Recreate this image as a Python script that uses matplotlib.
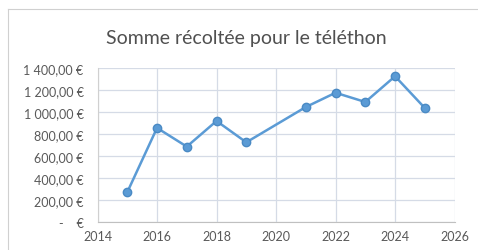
import matplotlib
matplotlib.use('Agg')
import matplotlib.pyplot as plt
from matplotlib.ticker import FuncFormatter
from matplotlib.lines import Line2D

# Data
annees = [2015, 2016, 2017, 2018, 2019, 2021, 2022, 2023, 2024, 2025]
sommes = [270, 855, 685, 918, 724, 1045, 1175, 1091, 1325, 1036]

plt.rcParams['font.family'] = ['Lato', 'DejaVu Sans']

fig = plt.figure(figsize=(4.78, 2.51), dpi=100)
ax = fig.add_axes([0.204, 0.112, 0.747, 0.613])

ax.plot(annees, sommes, color='#5b9bd5', linewidth=1.8, marker='o',
        markersize=6, markerfacecolor='#5b9bd5', markeredgecolor='#4a8ac4')

ax.set_xlim(2014, 2026)
ax.set_ylim(0, 1400)
ax.set_xticks(range(2014, 2027, 2))
ax.set_yticks(range(0, 1401, 200))
ax.grid(True, color='#d5dbe6', linewidth=0.9)
ax.set_axisbelow(True)


def euro(v, pos):
    if v == 0:
        return '-    €'
    s = f'{v:,.2f}'.replace(',', ' ').replace('.', ',')
    return s + ' €'


ax.yaxis.set_major_formatter(FuncFormatter(euro))
ax.tick_params(length=0, labelsize=9, labelcolor='#595959')
ax.tick_params(axis='y', pad=10)
ax.tick_params(axis='x', pad=6)
for side in ['top', 'right']:
    ax.spines[side].set_visible(False)
ax.spines['left'].set_color('#d0d0d0')
ax.spines['bottom'].set_color('#c0c0c0')

fig.text(0.515, 0.848, 'Somme récoltée pour le téléthon', ha='center', va='center',
         fontsize=14, color='#505050')

# chart frame
fig.add_artist(Line2D([0.016, 1.0], [0.96, 0.96], color='#d0d0d0', linewidth=0.8))
fig.add_artist(Line2D([0.016, 0.016], [0.0, 0.96], color='#d0d0d0', linewidth=0.8))

fig.savefig('out.png', dpi=100)
